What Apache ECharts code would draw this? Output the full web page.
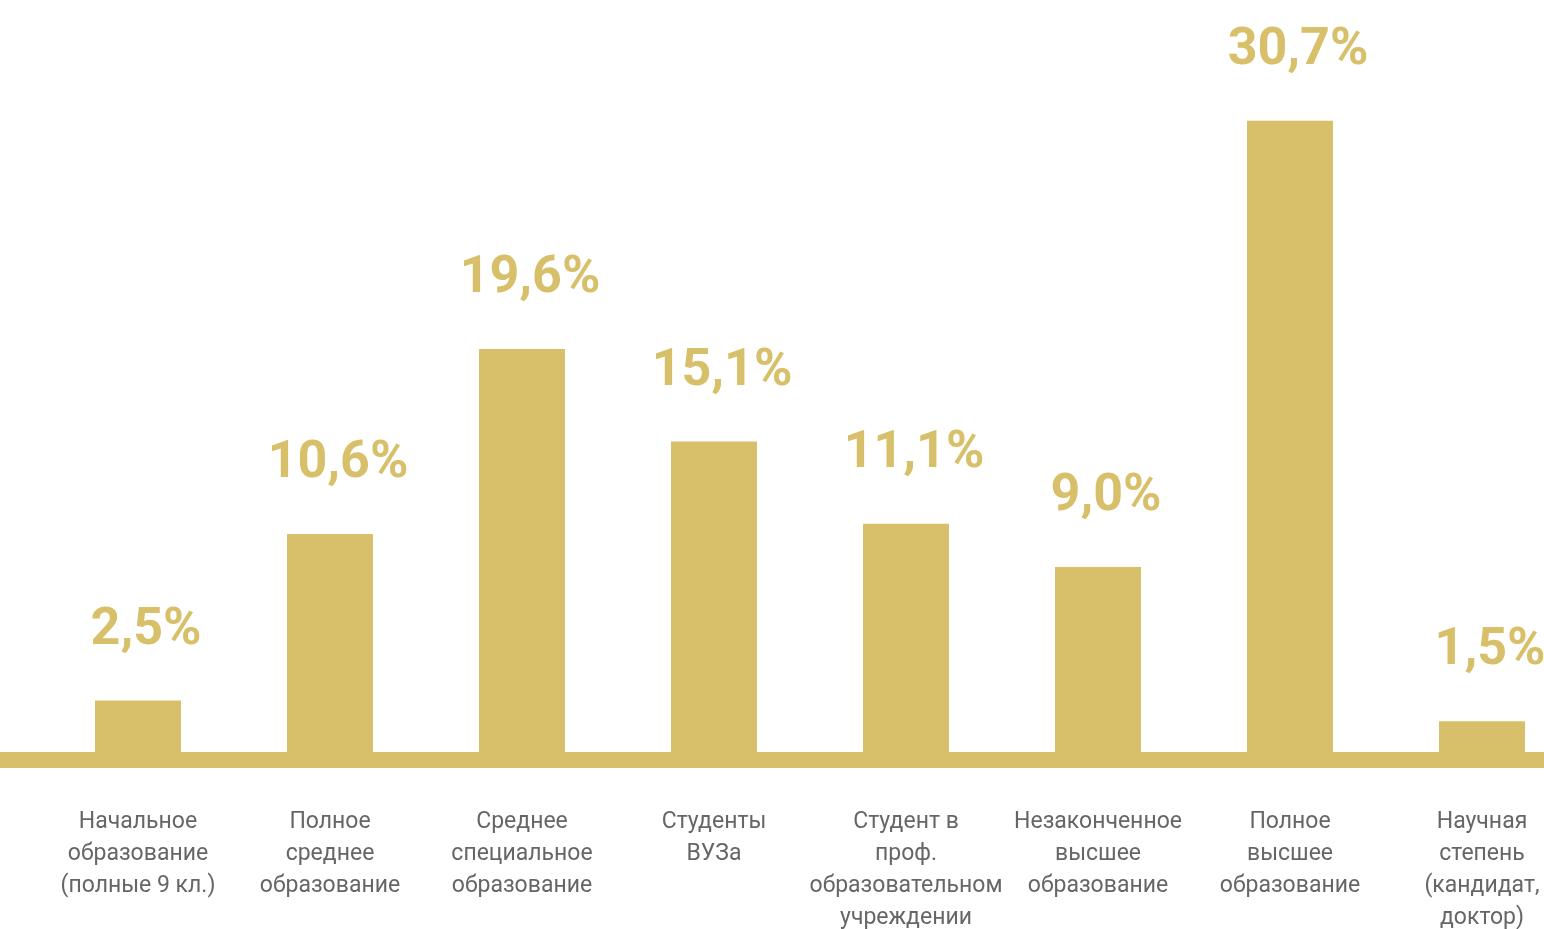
<!DOCTYPE html>
<html>
<head>
<meta charset="utf-8">
<style>
  html, body { margin: 0; padding: 0; background: #ffffff; }
  #chart { width: 1544px; height: 929px; }
</style>
<script src="https://cdn.jsdelivr.net/npm/echarts@6/dist/echarts.min.js"></script>
</head>
<body>
<div id="chart"></div>
<script>
const categories = [
  'Начальное\nобразование\n(полные 9 кл.)',
  'Полное\nсреднее\nобразование',
  'Среднее\nспециальное\nобразование',
  'Студенты\nВУЗа',
  'Студент в\nпроф.\nобразовательном\nучреждении',
  'Незаконченное\nвысшее\nобразование',
  'Полное\nвысшее\nобразование',
  'Научная\nстепень\n(кандидат,\nдоктор)'
];
const values = [2.5, 10.6, 19.6, 15.1, 11.1, 9.0, 30.7, 1.5];

const GOLD = '#D8BF69';
const GRAY = '#666666';

const chart = echarts.init(document.getElementById('chart'));
chart.setOption({
  backgroundColor: '#ffffff',
  animation: false,
  grid: [
    { left: 42, right: -34, top: 53, bottom: 177, outerBoundsMode: 'none', containLabel: false },
    { left: 0, right: 0, top: 53, bottom: 169, outerBoundsMode: 'none', containLabel: false }
  ],
  xAxis: [
    {
      type: 'category',
      gridIndex: 0,
      data: categories,
      axisLine: { show: false },
      axisTick: { show: false },
      axisLabel: {
        interval: 0,
        margin: 54,
        color: GRAY,
        fontFamily: 'Roboto',
        fontSize: 23,
        lineHeight: 32,
        align: 'center'
      }
    },
    {
      type: 'value',
      gridIndex: 1,
      min: 0,
      max: 1,
      axisLine: { show: true, onZero: false, lineStyle: { color: GOLD, width: 16 } },
      axisTick: { show: false },
      axisLabel: { show: false },
      splitLine: { show: false }
    }
  ],
  yAxis: [
    {
      type: 'value',
      gridIndex: 0,
      min: 0,
      max: 34,
      show: false
    },
    {
      type: 'value',
      gridIndex: 1,
      min: 0,
      max: 1,
      show: false
    }
  ],
  series: [
    {
      type: 'bar',
      xAxisIndex: 0,
      yAxisIndex: 0,
      data: values,
      barWidth: 86,
      itemStyle: { color: GOLD },
      z: 3,
      label: {
        show: true,
        position: 'top',
        distance: 44,
        offset: [8, 0],
        color: GOLD,
        fontFamily: 'Roboto',
        fontWeight: 'bold',
        fontSize: 52,
        formatter: function (p) { return p.value.toFixed(1).replace('.', ',') + '%'; }
      }
    }
  ]
});
</script>
</body>
</html>
